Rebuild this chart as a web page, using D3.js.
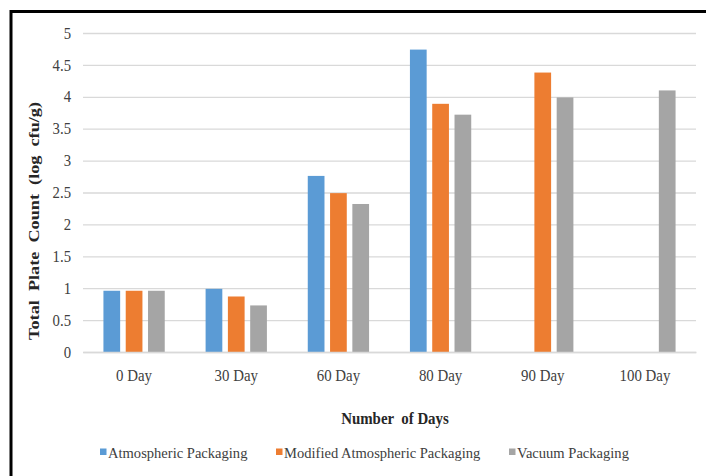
<!DOCTYPE html>
<html>
<head>
<meta charset="utf-8">
<script src="https://cdn.jsdelivr.net/npm/d3@7"></script>
<style>
  html, body { margin: 0; padding: 0; background: #fff; }
  svg { display: block; }
  svg text { font-family: "Liberation Serif", "Times New Roman", "DejaVu Serif", serif !important; }
</style>
</head>
<body>
<svg id="chart" width="706" height="476"></svg>
<script>
// Storage-time categories
const categories = ["0 Day", "30 Day", "60 Day", "80 Day", "90 Day", "100 Day"];
// Packaging series
const seriesNames = ["Atmospheric Packaging", "Modified Atmospheric Packaging", "Vacuum Packaging"];
// Total plate count (log cfu/g); null where no sample exists
const atmospheric = [0.96, 0.99, 2.76, 4.74, null, null];
const modified    = [0.96, 0.87, 2.49, 3.89, 4.38, null];
const vacuum      = [0.96, 0.73, 2.32, 3.72, 3.99, 4.10];
const yTicks = [0, 0.5, 1, 1.5, 2, 2.5, 3, 3.5, 4, 4.5, 5];
const colors = ["#5B9BD5", "#ED7D31", "#A5A5A5"];

const seriesValues = [atmospheric, modified, vacuum];

const svg = d3.select("#chart");
const plot = { left: 83, right: 696, top: 33, bottom: 352 };

// Narrow the glyphs of a text selection by factor k (slightly condensed look)
function condense(sel, k) {
  sel.each(function () {
    const w = this.getComputedTextLength();
    d3.select(this).attr("textLength", w * k).attr("lengthAdjust", "spacingAndGlyphs");
  });
}

const x0 = d3.scaleBand()
  .domain(categories)
  .range([plot.left, plot.right])
  .paddingInner(0.4)
  .paddingOuter(0.2);

const x1 = d3.scaleBand()
  .domain(seriesNames)
  .range([0, x0.bandwidth()])
  .paddingInner(0.25);

const y = d3.scaleLinear().domain([0, 5]).range([plot.bottom, plot.top]);

// Outer frame
svg.append("rect")
  .attr("x", 11).attr("y", 11.5)
  .attr("width", 800).attr("height", 600)
  .attr("fill", "none").attr("stroke", "#000").attr("stroke-width", 3);

// Horizontal gridlines and y tick labels
const yAxis = d3.axisLeft(y).tickValues(yTicks).tickSize(-(plot.right - plot.left)).tickPadding(12)
  .tickFormat(d => String(d));
const gy = svg.append("g").attr("transform", `translate(${plot.left},0)`).call(yAxis);
gy.select(".domain").remove();
gy.selectAll(".tick line").attr("stroke", "#D9D9D9").attr("stroke-width", 1.3);
gy.selectAll(".tick text")
  .attr("font-size", 16).attr("fill", "#404040")
  .call(condense, 0.92);

// Bars
const groups = svg.append("g").selectAll("g")
  .data(categories)
  .join("g")
  .attr("transform", d => `translate(${x0(d)},0)`);

groups.selectAll("rect")
  .data((c, i) => seriesNames.map((s, k) => ({ s, k, v: seriesValues[k][i] })).filter(d => d.v !== null))
  .join("rect")
  .attr("x", d => x1(d.s))
  .attr("width", x1.bandwidth())
  .attr("y", d => y(d.v))
  .attr("height", d => y(0) - y(d.v))
  .attr("fill", d => colors[d.k]);

// Category axis
const xAxis = d3.axisBottom(x0).tickSize(0).tickPadding(18);
const gx = svg.append("g").attr("transform", `translate(0,${plot.bottom})`).call(xAxis);
gx.select(".domain").attr("stroke", "#D9D9D9").attr("stroke-width", 1.3);
gx.selectAll(".tick text")
  .attr("font-size", 16).attr("fill", "#404040")
  .call(condense, 0.93);

// Axis titles
svg.append("text")
  .attr("transform", `translate(39,221) rotate(-90)`)
  .attr("text-anchor", "middle")
  .attr("font-size", 14).attr("font-weight", "bold").attr("fill", "#262626")
  .style("white-space", "pre")
  .attr("textLength", 238).attr("lengthAdjust", "spacingAndGlyphs")
  .text("Total  Plate  Count  (log  cfu/g)");

svg.append("text")
  .attr("x", 395).attr("y", 424)
  .attr("text-anchor", "middle")
  .attr("font-size", 16).attr("font-weight", "bold").attr("fill", "#262626")
  .style("white-space", "pre")
  .text("Number  of Days")
  .call(condense, 0.93);

// Legend
const legendX = [100, 276, 509];
const legend = svg.append("g").selectAll("g")
  .data(seriesNames)
  .join("g")
  .attr("transform", (d, i) => `translate(${legendX[i]},452)`);
legend.append("rect")
  .attr("x", 0).attr("y", -3.5).attr("width", 6.5).attr("height", 6.5)
  .attr("fill", (d, i) => colors[i]);
legend.append("text")
  .attr("x", 8).attr("y", 5.5)
  .attr("font-size", 15).attr("fill", "#404040")
  .text(d => d)
  .call(condense, 0.97);
</script>
</body>
</html>
